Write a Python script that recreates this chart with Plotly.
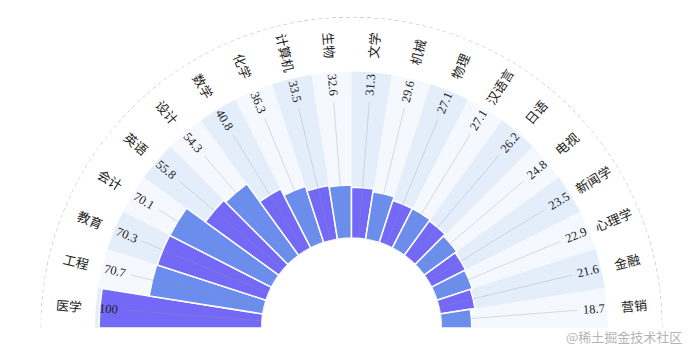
import math
import plotly.graph_objects as go

categories = ["医学", "工程", "教育", "会计", "英语", "设计", "数学", "化学", "计算机", "生物",
              "文学", "机械", "物理", "汉语言", "日语", "电视", "新闻学", "心理学", "金融", "营销"]
values = [100, 70.7, 70.3, 70.1, 55.8, 54.3, 40.8, 36.3, 33.5, 32.6,
          31.3, 29.6, 27.1, 27.1, 26.2, 24.8, 23.5, 22.9, 21.6, 18.7]
value_labels = ["100", "70.7", "70.3", "70.1", "55.8", "54.3", "40.8", "36.3", "33.5", "32.6",
                "31.3", "29.6", "27.1", "27.1", "26.2", "24.8", "23.5", "22.9", "21.6", "18.7"]

# page body has an 8px margin; size the figure so it fits the 695x356 window
OFF = 8
W, H = 695 - 2 * OFF, 356 - 2 * OFF
CX, CY, RPX = 351.5 - OFF, 328.0 - OFF, 311.0
HOLE = 0.289
R_MAX = 136
BG_VALUE = 102.5
GUIDE_END = 84
VALUE_LABEL_R = 94.5
CAT_LABEL_R = 119

n = len(categories)
step = 180.0 / n
thetas = [180 - (i + 0.5) * step for i in range(n)]

bar_colors = ["#7469f6" if i % 2 == 0 else "#6b8eee" for i in range(n)]
bg_colors = ["rgba(188,213,245,0.4)" if i % 2 == 0 else "rgba(233,240,252,0.45)" for i in range(n)]

fig = go.Figure()

# guide lines (under everything)
g_r, g_t = [], []
for t in thetas:
    g_r += [0, GUIDE_END, None]
    g_t += [t, t, None]
fig.add_trace(go.Scatterpolar(r=g_r, theta=g_t, mode="lines",
                              line=dict(color="rgba(150,150,150,0.45)", width=0.7),
                              hoverinfo="skip", showlegend=False))
# outer dashed arc
arc_t = [i * 0.5 for i in range(361)]
fig.add_trace(go.Scatterpolar(r=[R_MAX] * len(arc_t), theta=arc_t, mode="lines",
                              line=dict(color="#aaaaaa", width=1, dash="4px,3px"),
                              hoverinfo="skip", showlegend=False))
# background sectors
fig.add_trace(go.Barpolar(r=[BG_VALUE] * n, theta=thetas, width=[step] * n,
                          marker=dict(color=bg_colors, line=dict(width=0)),
                          hoverinfo="skip", showlegend=False))
# value bars
fig.add_trace(go.Barpolar(r=values, theta=thetas, width=[step] * n,
                          marker=dict(color=bar_colors, line=dict(color="white", width=1.5)),
                          text=categories, showlegend=False))


def rpx(v):
    h = HOLE * RPX
    return h + (RPX - h) * v / R_MAX


def to_paper(v, t):
    r = rpx(v)
    a = math.radians(t)
    x = CX + r * math.cos(a)
    y = CY - r * math.sin(a)
    return x / W, 1 - y / H


annotations = []
for i, t in enumerate(thetas):
    ang = (180 - t) if t > 90 else -t
    x, y = to_paper(VALUE_LABEL_R, t)
    annotations.append(dict(x=x, y=y, xref="paper", yref="paper", text=value_labels[i],
                            showarrow=False, textangle=ang, xanchor="center", yanchor="middle",
                            font=dict(family="Liberation Serif, serif", size=12.5, color="#222")))
    x, y = to_paper(CAT_LABEL_R, t)
    annotations.append(dict(x=x, y=y, xref="paper", yref="paper", text=categories[i],
                            showarrow=False, textangle=ang, xanchor="center", yanchor="middle",
                            font=dict(family="Noto Sans CJK SC, sans-serif", size=13, color="#222")))

annotations.append(dict(x=(W - 3) / W, y=1 - (336 - OFF) / H, xref="paper", yref="paper",
                        text="@稀土掘金技术社区", showarrow=False, xanchor="right", yanchor="middle",
                        font=dict(family="Noto Sans CJK SC, sans-serif", size=13, color="#b5b5b5")))

fig.update_layout(
    width=W, height=H,
    margin=dict(l=0, r=0, t=0, b=0),
    paper_bgcolor="white",
    plot_bgcolor="white",
    polar=dict(
        domain=dict(x=[(CX - RPX) / W, (CX + RPX) / W], y=[1 - CY / H, 1 - (CY - RPX) / H]),
        sector=[0, 180],
        hole=HOLE,
        bgcolor="white",
        barmode="overlay",
        radialaxis=dict(range=[0, R_MAX], visible=False),
        angularaxis=dict(visible=False, direction="counterclockwise", rotation=0),
    ),
    annotations=annotations,
    showlegend=False,
)

fig.write_html("out.html")
